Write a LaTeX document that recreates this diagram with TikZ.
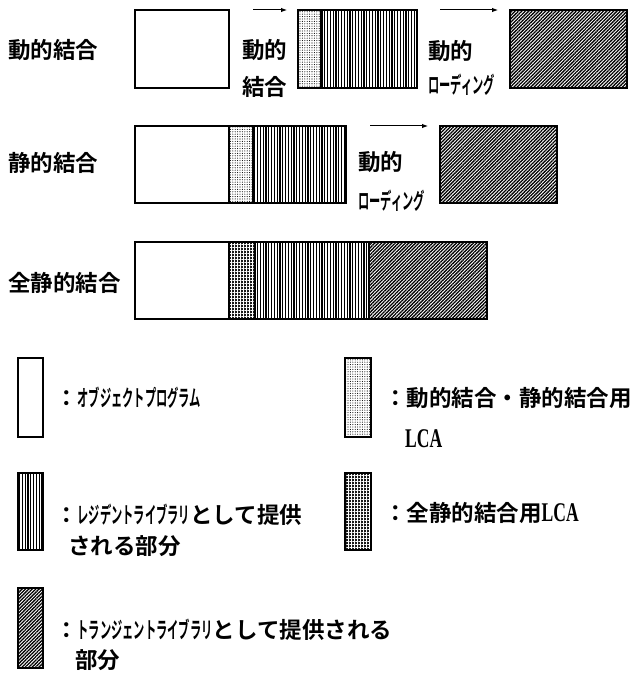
\documentclass[tikz,border=0pt]{standalone}
\usepackage{fontspec}
\usepackage{graphicx}
\setmainfont{Noto Sans CJK JP}[BoldFont={Noto Sans CJK JP Bold}]
\newfontfamily\lcaf{Liberation Serif}
\usetikzlibrary{patterns.meta,arrows.meta}
\newcommand{\nk}[1]{\scalebox{0.5}[1]{#1}}
\newcommand{\lcatext}{\scalebox{0.65}[1]{{\lcaf\fontsize{27}{30}\selectfont LCA}}}
\begin{document}
\begin{tikzpicture}[x=1pt,y=-1pt,
  lbl/.style={anchor=base west, inner sep=0pt, font=\bfseries\fontsize{22.5}{27}\selectfont},
  box/.style={draw=black, line width=1.2pt},
  pwhite/.style={box, fill=white},
  pdots/.style={box, pattern={Dots[distance=2.4pt,radius=0.55pt]}},
  pvert/.style={box, pattern={Lines[angle=90,distance=2.8pt,line width=1.3pt]}},
  pdiag/.style={box, pattern={Lines[angle=45,distance=2.4pt,line width=1.3pt]}},
  darkfill/.style={fill=black!90},
  darkgrid/.style={pattern={Hatch[distance=3pt,line width=0.45pt]}, pattern color=white},
  arr/.style={-{Latex[length=6pt,width=4.5pt]}, line width=1pt}]
\fill[white] (0,0) rectangle (637,679);
\useasboundingbox (0,0) rectangle (637,679);

% row labels
\node[lbl] (r1) at (8,58.5) {動的結合};
\node[lbl] (r2) at (8,171.5) {静的結合};
\node[lbl] (r3) at (8,291.5) {全静的結合};

% row 1
\path[pwhite] (135,10) rectangle (229,88);
\path[pdots] (298,10) rectangle (321,88);
\path[pvert] (321,10) rectangle (417,88);
\path[pdiag] (510,10) rectangle (627,88);
\coordinate (a1s) at (253,10); \coordinate (a1e) at (287,10);
\draw[arr] (a1s) -- (a1e);
\coordinate (a2s) at (440,10); \coordinate (a2e) at (498,10);
\draw[arr] (a2s) -- (a2e);
\node[lbl] (t1a) at (242,58.5) {動的};
\node[lbl] (t1b) at (242,96) {結合};
\node[lbl] (t1c) at (428,60) {動的};
\node[lbl] (t1d) at (428,93.5) {\nk{ローディング}};

% row 2
\path[pwhite] (135,126) rectangle (229,203);
\path[pdots] (229,126) rectangle (253,203);
\path[pvert] (253,126) rectangle (346,203);
\path[pdiag] (440,126) rectangle (557,203);
\coordinate (a3s) at (370,126); \coordinate (a3e) at (428,126);
\draw[arr] (a3s) -- (a3e);
\node[lbl] (t2a) at (358,171) {動的};
\node[lbl] (t2b) at (358,209) {\nk{ローディング}};

% row 3
\path[pwhite] (135,242) rectangle (229,319);
\path[darkfill] (229,242) rectangle (255,319);
\path[darkgrid] (229,242) rectangle (255,319);
\path[box] (229,242) rectangle (255,319);
\path[pvert] (255,242) rectangle (369,319);
\path[pdiag] (369,242) rectangle (487,319);

% legend
\path[pwhite] (18,358) rectangle (43,437);
\node[lbl] (l1) at (55,406) {：\nk{オブジェクトプログラム}};
\path[pdots] (345,358) rectangle (371,437);
\node[lbl] (l2) at (384,406.5) {：動的結合・静的結合用};
\node[lbl] (l2b) at (405,447) {\lcatext};

\path[pvert] (18,473) rectangle (43,550);
\node[lbl] (l3) at (55,523) {：\nk{レジデントライブラリ}として提供};
\node[lbl] (l3b) at (68,554) {される部分};
\path[darkfill] (345,473) rectangle (371,550);
\path[darkgrid] (345,473) rectangle (371,550);
\path[box] (345,473) rectangle (371,550);
\node[lbl] (l4) at (384,521.5) {：全静的結合用\lcatext};

\path[pdiag] (18,588) rectangle (43,668);
\node[lbl] (l5) at (55,638.5) {：\nk{トランジェントライブラリ}として提供される};
\node[lbl] (l5b) at (75,668.5) {部分};
\end{tikzpicture}
\end{document}
